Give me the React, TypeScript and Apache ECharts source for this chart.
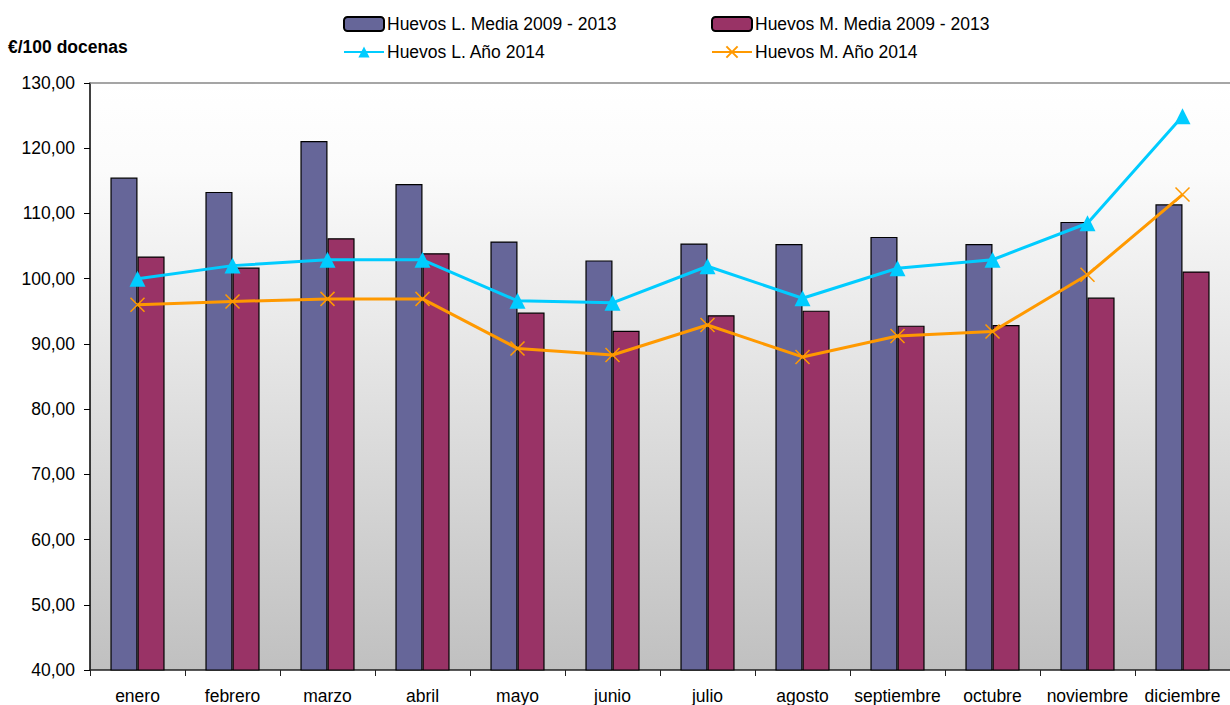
import React, { useEffect, useRef } from "react";
import * as echarts from "echarts";

const months = ["enero", "febrero", "marzo", "abril", "mayo", "junio", "julio", "agosto", "septiembre", "octubre", "noviembre", "diciembre"];
const mediaL = [115.5, 113.3, 121.1, 114.5, 105.7, 102.8, 105.4, 105.3, 106.4, 105.3, 108.7, 111.4];
const mediaM = [103.4, 101.7, 106.2, 103.9, 94.8, 92.0, 94.4, 95.1, 92.8, 92.9, 97.1, 101.1];
const anoL = [100.0, 102.0, 102.9, 102.9, 96.6, 96.3, 101.9, 97.0, 101.6, 102.9, 108.5, 124.9];
const anoM = [96.0, 96.5, 96.9, 96.9, 89.3, 88.3, 92.9, 88.0, 91.2, 91.9, 100.6, 112.9];
const names = ["Huevos L. Media 2009 - 2013", "Huevos M. Media 2009 - 2013", "Huevos L. Año 2014", "Huevos M. Año 2014"];

const FONT = "'Liberation Sans', Arial, sans-serif";
const CROSS = "path://M0,0L10,10M10,0L0,10";

export default function App() {
  const ref = useRef<HTMLDivElement>(null);
  useEffect(() => {
    if (!ref.current) return;
    const chart = echarts.init(ref.current, null, { renderer: "svg" });
    const legendBase = {
      orient: "horizontal",
      itemWidth: 40,
      itemHeight: 14,
      itemGap: 0,
      padding: 0,
      textStyle: { fontFamily: FONT, fontSize: 17.5, lineHeight: 14, color: "#000", padding: [0, 0, 0, -2] },
    };
    chart.setOption({
      animation: false,
      backgroundColor: "#fff",
      title: {
        text: "€/100 docenas",
        left: 8,
        top: 38,
        padding: 0,
        textStyle: { fontFamily: FONT, fontSize: 17.5, fontWeight: "bold", color: "#000" },
      },
      legend: [
        { ...legendBase, data: [names[0]], left: 343, top: 15 },
        { ...legendBase, data: [names[1]], left: 711, top: 15 },
        { ...legendBase, data: [names[2]], left: 343, top: 43 },
        { ...legendBase, data: [names[3]], left: 711, top: 43 },
      ],
      grid: {
        left: 90,
        right: 0,
        top: 83,
        bottom: 35,
        show: true,
        borderWidth: 0,
        backgroundColor: new echarts.graphic.LinearGradient(0, 0, 0, 1, [
          { offset: 0, color: "#ffffff" },
          { offset: 0.15, color: "#fbfbfb" },
          { offset: 1, color: "#c0c0c0" },
        ]),
      },
      xAxis: [
        {
          type: "category",
          data: months,
          axisLine: { lineStyle: { color: "#222", width: 1.5 } },
          axisTick: { show: true, length: 6, lineStyle: { color: "#222" } },
          axisLabel: { fontFamily: FONT, fontSize: 17.5, color: "#000", margin: 17, interval: 0 },
        },
        {
          type: "category",
          data: months,
          position: "top",
          axisLine: { lineStyle: { color: "#888", width: 1.5 } },
          axisTick: { show: false },
          axisLabel: { show: false },
        },
      ],
      yAxis: {
        type: "value",
        min: 40,
        max: 130,
        interval: 10,
        axisLine: { show: true, lineStyle: { color: "#000", width: 1.5 } },
        axisTick: { show: true, length: 6, lineStyle: { color: "#000" } },
        splitLine: { show: false },
        axisLabel: {
          fontFamily: FONT,
          fontSize: 17.5,
          color: "#000",
          margin: 15,
          formatter: (v: number) => v.toFixed(2).replace(".", ","),
        },
      },
      series: [
        {
          name: names[0],
          type: "bar",
          data: mediaL,
          barGap: "0%",
          barCategoryGap: "43%",
          itemStyle: { color: "#666699", borderColor: "#000", borderWidth: 1.2 },
        },
        {
          name: names[1],
          type: "bar",
          data: mediaM,
          barGap: "0%",
          barCategoryGap: "43%",
          itemStyle: { color: "#993366", borderColor: "#000", borderWidth: 1.2 },
        },
        {
          name: names[2],
          type: "line",
          data: anoL,
          symbol: "triangle",
          symbolSize: 16,
          lineStyle: { color: "#00CCFF", width: 3 },
          itemStyle: { color: "#00CCFF" },
          z: 5,
        },
        {
          name: names[3],
          type: "line",
          data: anoM,
          symbol: CROSS,
          symbolSize: 14,
          lineStyle: { color: "#FF9900", width: 3 },
          itemStyle: { color: "#FF9900", borderColor: "#FF9900", borderWidth: 1.5 },
          z: 5,
        },
      ],
    });
    return () => chart.dispose();
  }, []);
  return <div ref={ref} style={{ position: "fixed", left: 0, top: 0, width: 1230, height: 705 }} />;
}
